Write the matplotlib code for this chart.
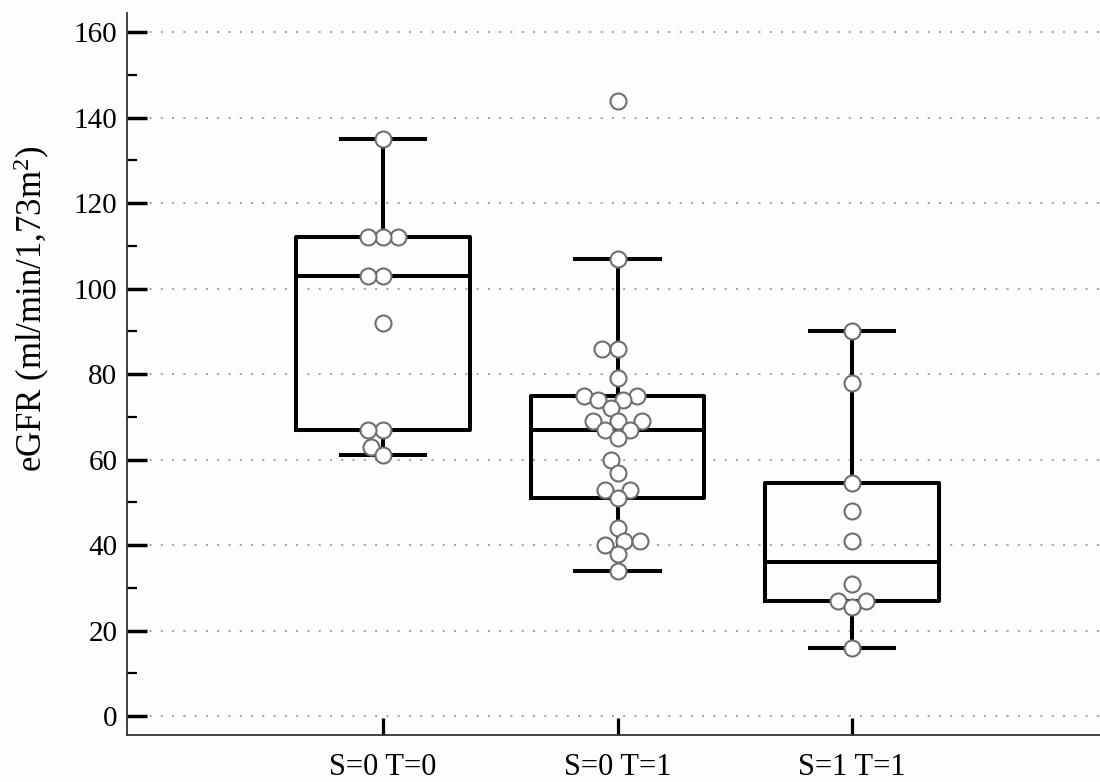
import numpy as np
import pandas as pd
import matplotlib
matplotlib.use("Agg")
import matplotlib.pyplot as plt
import seaborn as sns

categories = ["S=0 T=0", "S=0 T=1", "S=1 T=1"]
g1 = [135, 112, 112, 112, 103, 103, 92, 67, 67, 63, 61]
g2 = [144, 107, 86, 86, 79, 75, 75, 74, 74, 72, 69, 69, 69, 67, 67, 65,
      60, 57, 53, 53, 51, 44, 41, 41, 40, 38, 34]
g3 = [90, 78, 54.5, 48, 41, 31, 27, 27, 25.5, 16]
yticks = [0, 20, 40, 60, 80, 100, 120, 140, 160]
yminor = [10, 30, 50, 70, 90, 110, 130, 150]
ylabel = "eGFR (ml/min/1,73m$^{2}$)"

groups = [g1, g2, g3]


def tukey_stats(vals, label):
    v = np.sort(np.asarray(vals, dtype=float))
    n = len(v)
    med = np.median(v)
    half = n // 2
    lower = v[:half]
    upper = v[n - half:]
    q1, q3 = np.median(lower), np.median(upper)
    iqr = q3 - q1
    lo = v[v >= q1 - 1.5 * iqr].min()
    hi = v[v <= q3 + 1.5 * iqr].max()
    return dict(med=med, q1=q1, q3=q3, whislo=lo, whishi=hi, fliers=[], label=label)


plt.rcParams['font.family'] = ['Liberation Serif', 'DejaVu Serif']
plt.rcParams['mathtext.fontset'] = 'custom'
plt.rcParams['mathtext.rm'] = 'Liberation Serif'
plt.rcParams['mathtext.it'] = 'Liberation Serif:italic'

fig = plt.figure(figsize=(11, 7.82), dpi=100)
ax = fig.add_axes([0.1155, 0.0601, 0.8845, 0.9239])
ax.set_facecolor('#fdfdfd')
fig.patch.set_facecolor('#fdfdfd')

stats = [tukey_stats(g, c) for g, c in zip(groups, categories)]
lw = 2.9
ax.bxp(stats, positions=[0, 1, 2], widths=0.74, showfliers=False,
       boxprops=dict(color='black', linewidth=lw),
       medianprops=dict(color='black', linewidth=lw, solid_capstyle='butt'),
       whiskerprops=dict(color='black', linewidth=lw),
       capprops=dict(color='black', linewidth=lw),
       capwidths=0.36, manage_ticks=False, zorder=2)

df = pd.DataFrame({"group": np.repeat(categories, [len(g) for g in groups]),
                   "value": np.concatenate(groups)})
sns.swarmplot(data=df, x="group", y="value", order=categories, ax=ax,
              size=9.0, color='white', edgecolor='#6e6e6e', linewidth=1.4,
              zorder=3)

ax.set_xlim(-1.092, 3.058)
ax.set_ylim(-4.4, 164.6)

# compute swarm layout with compact spacing, then redraw with larger markers
fig.canvas.draw()
for coll in list(ax.collections):
    offs = np.array(coll.get_offsets()).copy()
    coll.remove()
    ax.scatter(offs[:, 0], offs[:, 1], s=11.5 ** 2, facecolor='white',
               edgecolor='#6e6e6e', linewidths=1.5, zorder=3)

ax.set_xlim(-1.092, 3.058)
ax.set_ylim(-4.4, 164.6)
ax.set_yticks(yticks)
ax.set_yticks(yminor, minor=True)
ax.set_xticks([0, 1, 2])
ax.set_xticklabels(categories)
ax.set_xlabel("")
ax.set_ylabel(ylabel, fontsize=25)
ax.yaxis.set_label_coords(-0.077, 0.59)

ax.tick_params(axis='y', which='major', direction='in', length=14.5, width=2.5,
               labelsize=21, pad=7, color='black')
ax.tick_params(axis='y', which='minor', direction='in', length=7.5, width=1.6,
               color='black')
ax.tick_params(axis='x', which='major', direction='in', length=12, width=2.3,
               labelsize=22, pad=13, color='black')

for y in yticks:
    ax.axhline(y, color='#a0a0a0', linewidth=1.4, linestyle=(0, (1, 4.8)), zorder=0)
ax.grid(False)

for s in ['top', 'right']:
    ax.spines[s].set_visible(False)
for s in ['left', 'bottom']:
    ax.spines[s].set_color('#333333')
    ax.spines[s].set_linewidth(1.3)

fig.savefig("out.png", dpi=100, facecolor=fig.get_facecolor())
